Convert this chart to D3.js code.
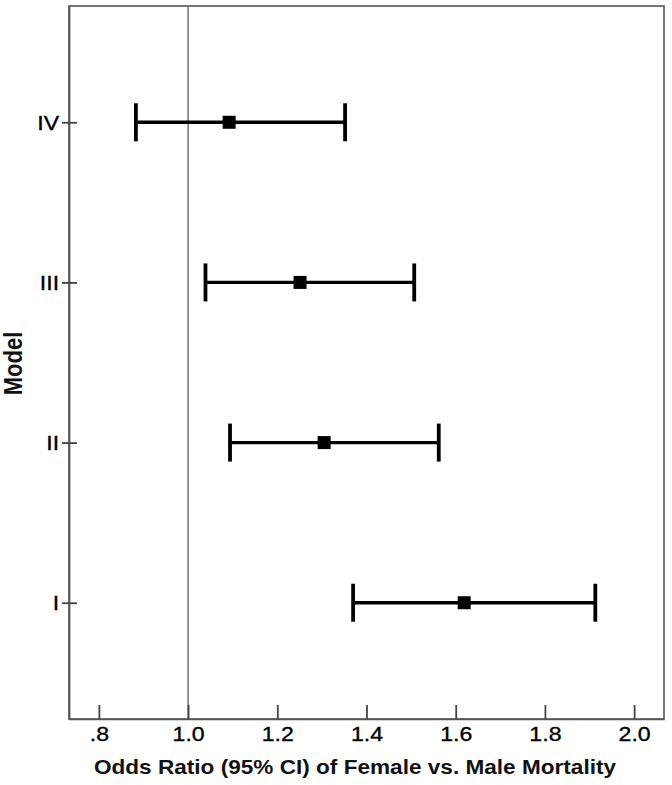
<!DOCTYPE html>
<html>
<head>
<meta charset="utf-8">
<script src="https://cdn.jsdelivr.net/npm/d3@7"></script>
<style>
  body { margin: 0; background: #fff; }
  text { font-family: "Liberation Sans", Arial, sans-serif; }
</style>
</head>
<body>
<div class="forest-chart-container"></div>
<script>
"use strict";

// Data
const models = ["I", "II", "III", "IV"];
const oddsRatio = [1.619, 1.305, 1.251, 1.092];
const ciLower = [1.370, 1.094, 1.039, 0.883];
const ciUpper = [1.913, 1.562, 1.507, 1.352];
const xTicks = [0.8, 1.0, 1.2, 1.4, 1.6, 1.8, 2.0];
const xTickLabels = [".8", "1.0", "1.2", "1.4", "1.6", "1.8", "2.0"];
const refValue = 1.0;

const rows = models.map((m, i) => ({
    model: m,
    or: oddsRatio[i],
    lo: ciLower[i],
    hi: ciUpper[i]
}));

// Margin convention
const margin = {top: 6, right: 8, bottom: 66, left: 69};
const width = 672 - margin.left - margin.right;
const height = 785 - margin.top - margin.bottom;
const stretch = "scale(1.1,1)";

const svg = d3.select('.forest-chart-container')
    .append('svg')
    .attr('width', width + margin.left + margin.right)
    .attr('height', height + margin.top + margin.bottom)
    .append('g')
    .attr('transform', `translate(${margin.left}, ${margin.top})`);

const xScale = d3.scaleLinear()
    .domain([0.733, 2.067])
    .range([0, width]);

const yScale = d3.scalePoint()
    .domain(models.slice().reverse())
    .range([0, height])
    .padding(0.726);

// frame
svg.append('rect')
    .attr('width', width)
    .attr('height', height)
    .attr('fill', 'none')
    .attr('stroke', '#5f5f5f')
    .attr('stroke-width', 1.7);

// reference line at 1.0
svg.append('line')
    .attr('x1', xScale(refValue))
    .attr('x2', xScale(refValue))
    .attr('y1', 0)
    .attr('y2', height)
    .attr('stroke', '#6a6a6a')
    .attr('stroke-width', 1.4);

// x axis, ticks pointing inside
const xAxis = svg.append('g')
    .attr('transform', `translate(0, ${height})`)
    .call(d3.axisBottom(xScale)
        .tickValues(xTicks)
        .tickFormat((d, i) => xTickLabels[i])
        .tickSizeInner(-14)
        .tickSizeOuter(0)
        .tickPadding(7));

// y axis, ticks crossing the axis line
const yAxis = svg.append('g')
    .call(d3.axisLeft(yScale)
        .tickSizeInner(7)
        .tickSizeOuter(0)
        .tickPadding(2));

yAxis.selectAll('.tick line').attr('x2', 8).attr('x1', -7);

[xAxis, yAxis].forEach(ax => {
    ax.select('.domain').attr('stroke', '#555').attr('stroke-width', 1.7);
    ax.selectAll('.tick line').attr('stroke', '#444').attr('stroke-width', 1.8);
    ax.selectAll('.tick text')
        .attr('fill', '#000')
        .attr('stroke', '#000')
        .attr('stroke-width', 0.35)
        .style('font-size', '21px')
        .attr('transform', stretch);
});

// error bars
const capHalf = 19;
const bars = svg.selectAll('.bar')
    .data(rows)
    .enter()
    .append('g')
    .attr('class', 'bar')
    .attr('transform', d => `translate(0, ${yScale(d.model)})`);

bars.append('line')
    .attr('x1', d => xScale(d.lo))
    .attr('x2', d => xScale(d.hi))
    .attr('stroke', '#000')
    .attr('stroke-width', 3.3);

bars.append('line')
    .attr('x1', d => xScale(d.lo))
    .attr('x2', d => xScale(d.lo))
    .attr('y1', -capHalf)
    .attr('y2', capHalf)
    .attr('stroke', '#000')
    .attr('stroke-width', 3.8);

bars.append('line')
    .attr('x1', d => xScale(d.hi))
    .attr('x2', d => xScale(d.hi))
    .attr('y1', -capHalf)
    .attr('y2', capHalf)
    .attr('stroke', '#000')
    .attr('stroke-width', 3.8);

const sq = 13;
bars.append('rect')
    .attr('x', d => xScale(d.or) - sq / 2)
    .attr('y', -sq / 2)
    .attr('width', sq)
    .attr('height', sq)
    .attr('fill', '#000');

// axis titles
svg.append('text')
    .attr('transform', `translate(${355 - margin.left}, ${774 - margin.top}) scale(1.13,1)`)
    .attr('text-anchor', 'middle')
    .style('font-size', '20px')
    .style('font-weight', 'bold')
    .attr('fill', '#111')
    .text('Odds Ratio (95% CI) of Female vs. Male Mortality');

svg.append('text')
    .attr('transform', `translate(${22 - margin.left}, ${height / 2 + 1}) scale(1.13,1) rotate(-90)`)
    .attr('text-anchor', 'middle')
    .style('font-size', '22px')
    .style('font-weight', 'bold')
    .attr('fill', '#111')
    .text('Model');
</script>
</body>
</html>
